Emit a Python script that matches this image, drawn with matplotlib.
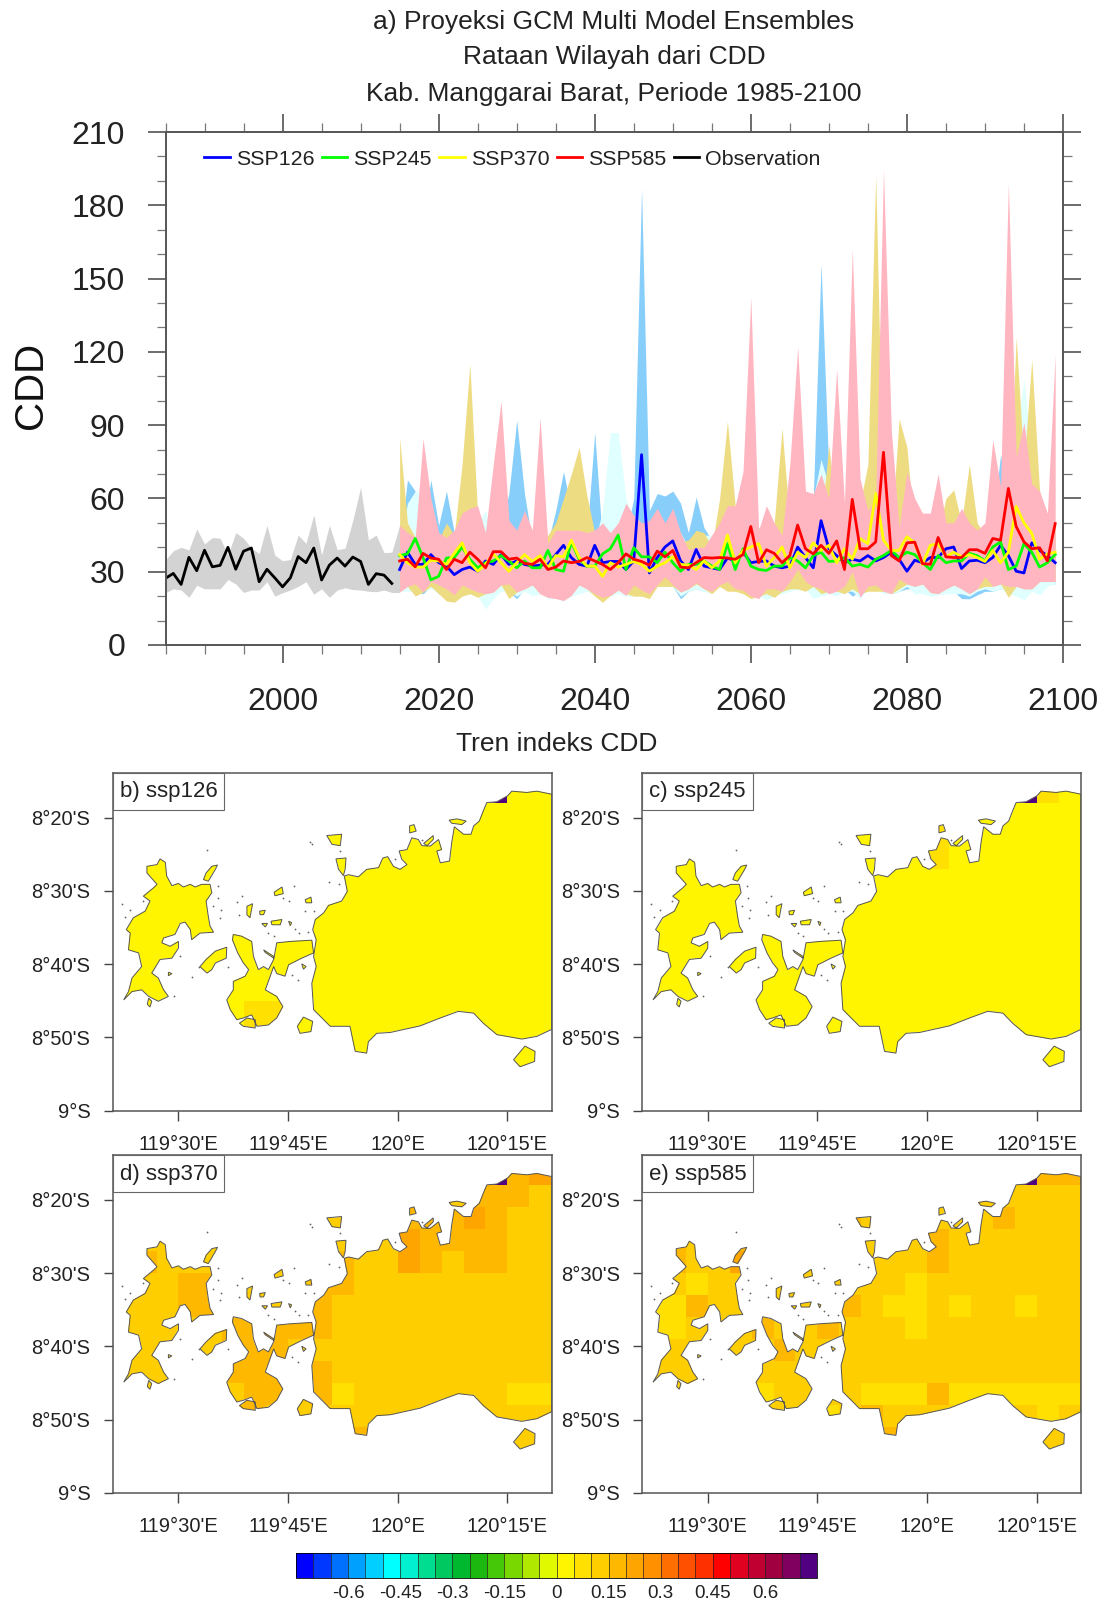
import numpy as np
import matplotlib
matplotlib.use("Agg")
import matplotlib.pyplot as plt
from matplotlib.colors import ListedColormap, BoundaryNorm
from matplotlib.cm import ScalarMappable
from matplotlib.patches import PathPatch, Rectangle
from matplotlib.path import Path

plt.rcParams['font.family'] = ['Liberation Sans', 'DejaVu Sans']

W, H = 1107, 1602

# observations 1985-2014, the grey band runs one year further
obs_years = np.arange(1985, 2015)
band_years = np.arange(1985, 2016)
obs = [27.3, 29.3, 24.8, 35.9, 30.4, 38.8, 32, 32.6, 40, 31,
       38.4, 39.7, 25.9, 31, 27.5, 23.8, 27.5, 36.2, 33.7, 39.7,
       26.6, 32.7, 35.6, 32.3, 36, 34.2, 24.8, 29.2, 28.6, 25.2]
obs_hi = [34.8, 38.6, 40, 38.9, 47.5, 41.4, 44, 43.7, 36.8, 46,
          43.7, 39.6, 37.5, 49, 36.8, 34.5, 35, 45, 41.6, 53.3,
          36.8, 49, 39, 39.6, 51, 64.5, 43, 45, 37.8, 38, 49]
obs_lo = [21.4, 23, 22.5, 19.5, 24.5, 23, 23, 23, 26.8, 25,
          21.5, 22.5, 22.5, 25.9, 20, 21.4, 22.5, 24, 25.9, 20.8,
          23, 19.5, 22.5, 23.4, 22.7, 22.5, 22, 21.8, 22.5, 21.5, 21.5]

# projections 2015-2099
years = np.arange(2015, 2100)
ssp585 = [34.4, 35.1, 32, 37.5, 35.6, 35.1, 30.9, 35.1, 33.7, 38,
          35.1, 31.6, 38.2, 38.2, 35.1, 35.6, 33.4, 33, 35.1, 30.9,
          31.9, 34.4, 33.7, 34.2, 35.8, 34.4, 33, 30.9, 33.7, 37.3,
          35.1, 34.2, 32.7, 38.4, 36.1, 38.7, 31.9, 31.6, 33.7, 35.8,
          35.6, 35.8, 35.6, 35.1, 37, 48.5, 33.7, 39, 37.5, 33.7,
          36.6, 49.1, 39.4, 37.3, 40.8, 37.5, 42.6, 30.9, 59.6, 39.4,
          39.4, 42.2, 78.9, 36.6, 34.4, 41.8, 42.1, 33.3, 33, 44,
          36.1, 35.8, 35.8, 39, 39, 37.5, 43.6, 42.9, 64.1, 48.5,
          42.2, 39.4, 39.8, 34.4, 49.7]
ssp126 = [30.9, 38, 33, 33, 37, 33.7, 32.3, 28.8, 30.9, 31.9,
          30.2, 34.4, 33, 37, 33, 34.4, 33, 32.3, 32.7, 33,
          37, 40.8, 35.8, 33, 32.3, 40.8, 33.7, 34.2, 34.2, 30.9,
          34.4, 77.9, 29.5, 35.8, 40.1, 42.6, 34.4, 30.9, 39.1, 32.3,
          31.6, 30.9, 35.6, 34.4, 38, 33.7, 34.2, 34.4, 32.3, 31.6,
          32.3, 40.1, 35.8, 31.6, 50.9, 39.4, 36.6, 33.7, 35.1, 34.4,
          36.6, 34.4, 35.8, 38, 35.1, 30.2, 34.7, 33.7, 35.8, 35.8,
          39.4, 40.1, 31.3, 34.4, 34.7, 33.7, 35.8, 40.8, 36.6, 30.2,
          29.5, 41.8, 38.7, 36.6, 33.7]
ssp245 = [36.6, 37.3, 43.6, 35.8, 26.7, 28.1, 35.6, 35.8, 40.1, 35.1,
          31.6, 33.7, 34.4, 36.6, 34.4, 31.6, 34.4, 31.6, 31.6, 38.7,
          30.9, 30.2, 42.2, 35.1, 32.3, 32.3, 37.3, 39.4, 45, 30.9,
          39.8, 36.1, 36.1, 33.7, 38, 33.7, 30.2, 33, 33, 34.4,
          32.3, 30.9, 41.5, 30.9, 39.4, 32.3, 30.9, 30.5, 32.3, 32.3,
          35.8, 34.4, 31.6, 36.6, 38, 34.2, 34.4, 35.8, 32.3, 33,
          31.9, 35.1, 36.6, 38.7, 35.8, 38, 37, 33.7, 30.9, 36.6,
          33.7, 34.4, 34.4, 37.5, 36.6, 34.4, 40.1, 42.2, 30.9, 32.3,
          41.5, 38, 31.9, 33.7, 37]
ssp370 = [37, 33.7, 31.9, 31.9, 34.7, 34.4, 33, 37.5, 41.8, 33.7,
          30.2, 33, 37.3, 33.7, 30.2, 33.7, 37, 34.2, 36.6, 31.6,
          36.6, 36.1, 42.9, 35.8, 32.3, 32.3, 28.1, 33.7, 31.9, 33,
          34.2, 33, 30.2, 32.3, 33.7, 36.1, 33, 32.7, 30.9, 34.4,
          31.6, 34.4, 45, 33.7, 38.7, 40.1, 41.5, 32.3, 35.8, 40.1,
          31.6, 38, 35.8, 41.8, 38.7, 40.8, 33.7, 39.4, 35.1, 43.6,
          41.5, 62, 42.9, 38.7, 38.7, 44.3, 41.8, 33, 40.8, 41.5,
          36.1, 38, 36.1, 37, 35.8, 34.2, 38.7, 33.7, 38, 56.7,
          50, 45.7, 35.1, 37.3, 38]

hi_126 = [40, 67.6, 63, 45, 67.6, 49, 63, 46, 40, 45,
          45, 44, 40, 48, 62, 92, 62, 42, 45, 42,
          55, 71, 55, 42, 45, 87, 42, 42, 42, 45,
          60, 187, 55, 62, 61, 63, 58, 46, 60.5, 48,
          43, 45, 48, 50, 55, 50, 48, 50, 46, 45,
          50, 50, 55, 60, 156, 70, 52, 45, 45, 46,
          45, 50, 45, 45, 40, 45, 45, 52, 48, 45,
          45, 45, 45, 50, 45, 45, 50, 78, 55, 50,
          50, 50, 55, 45, 45]
lo_126 = [22, 24, 22, 21, 24, 21, 19.5, 21, 21, 23,
          22, 21, 21.7, 24.6, 22, 18.9, 23, 24.6, 21, 21,
          21, 21, 21, 24.6, 23, 21, 19.5, 20.3, 22, 20.3,
          22, 21, 21, 24, 24, 24, 18.9, 22, 23, 22,
          22, 24, 24, 22, 22, 21, 20, 20, 20.5, 22,
          23, 23, 23, 24, 23, 21, 22, 23, 20, 22,
          23, 24, 22, 21, 22, 23, 23, 23, 21, 21,
          23, 22, 19, 18.9, 20.5, 22, 22, 23, 22, 22,
          22, 22, 25, 25, 25]
hi_245 = [40, 58, 63, 63, 45, 40, 40, 44, 42, 48,
          50, 55, 42, 42, 44, 46, 46, 48, 42, 45,
          46, 46, 55, 70, 48, 42, 55, 87, 87, 60,
          50, 48, 46, 45, 48, 45, 46, 40, 42, 45,
          45, 45, 50, 45, 50, 50, 48, 42, 44, 46,
          45, 50, 52, 60, 76, 65, 50, 45, 45, 45,
          50, 45, 50, 42, 40, 45, 42, 50, 50, 47,
          46, 46, 46, 45, 45, 50, 50, 60, 70, 85,
          109, 78, 50, 50, 45]
lo_245 = [22, 22, 22, 22, 23, 22, 21, 21, 21, 21,
          20, 14.7, 19, 22, 22, 20, 22, 20, 21, 19,
          19, 18, 20, 21, 22, 20.5, 19.5, 20, 21, 20,
          20, 20, 21, 24, 24, 24, 20, 22, 23, 22,
          21, 24, 24, 22, 22, 21, 20, 18.5, 20, 21,
          22, 23, 23, 19, 20, 21, 20, 22, 22, 19,
          23, 23, 21, 21, 22, 24, 21, 21, 20, 20.5,
          21, 21, 21, 20, 22, 23, 22, 23, 21, 20,
          18.5, 22, 20.5, 24, 25]
hi_370 = [85, 50, 44, 42, 42, 43, 50, 45, 74, 115,
          53, 43, 65, 42, 42, 44, 43, 45, 42, 45,
          50, 60, 70, 81, 61, 46, 40, 42, 50, 42,
          44, 46, 42, 44, 45, 46, 42, 43, 47, 46,
          40, 60, 91.6, 57, 45, 45, 48, 45, 50, 88.8,
          50, 60, 45, 45, 50, 82, 50, 60, 45, 58,
          74, 192.5, 55, 46, 92.6, 81, 45, 46, 54, 46,
          60, 63.5, 50, 74, 50, 45, 50, 45, 50, 126,
          74, 117, 63, 50, 50]
lo_370 = [22, 24, 20, 21.7, 24, 21, 18, 17.5, 20, 21,
          19.5, 21, 21.7, 24.6, 19, 21.7, 23, 24.6, 21, 19.5,
          21, 21, 21, 24.6, 23, 20, 17.5, 20.3, 22.5, 21,
          20, 20, 19, 24, 24, 24, 21.7, 23, 25, 23,
          21, 24, 22, 22, 21, 19, 20, 21, 19.5, 22,
          23, 23, 22, 24, 21, 22, 22, 21, 23, 21,
          22, 22, 22, 21, 23, 25, 24, 25, 21.5, 21,
          23, 24.6, 23, 21, 23, 24, 24, 25, 19.5, 24,
          23, 23, 26, 26, 26]
hi_585 = [49, 46, 44, 84.5, 60, 46, 44, 47, 54, 56,
          57, 46, 74, 100, 51, 47, 55, 47, 93, 41.5,
          47, 47, 47, 47, 46, 47, 50, 46, 50, 58,
          53, 50, 51, 56, 50, 56, 46, 39, 40, 40,
          45, 50, 57, 57, 71, 142.4, 47, 57, 50, 45,
          74, 122, 63, 62, 70, 60, 113, 58, 162, 68,
          55, 60, 194.6, 88, 48, 71, 60, 54, 54, 70,
          50, 50, 56, 50, 47, 50, 84, 65, 189, 77,
          91, 66, 63, 54, 119]
lo_585 = [21.7, 24, 25, 21.7, 26, 24.6, 23, 20.5, 24.6, 23,
          21.7, 21, 21.7, 24.6, 25, 21.7, 23, 24.6, 21, 19.5,
          19, 18.2, 20.3, 24.6, 23, 21, 19.5, 20.3, 22.5, 20.3,
          24.6, 22.5, 21, 24.6, 28, 24.6, 21.7, 23, 25.5, 23,
          22, 24.6, 26, 23, 22.5, 20, 19, 23, 23, 22,
          26, 31, 26, 24, 23, 21, 22, 24, 30, 19.5,
          24, 24.6, 22, 21, 27, 25, 24, 25, 21.5, 21,
          23, 24.6, 23, 21, 23, 28, 24, 25, 24, 24,
          23, 23, 26, 26, 26]

# trend classes on the 0.05 degree grid, top row first (lat -8.2 down to -9)
trend_class = {'a': 0.02, 'b': 0.07, 'c': 0.12, 'd': 0.17, 'e': 0.22, 'p': 0.72}
cells_126 = ['aaaaaaaaaaaaaaaaaaaa', 'aaaaaaaaaaaaaaaaapaa'] + ['aaaaaaaaaaaaaaaaaaaa'] * 9 + \
            ['aaaaaabbaaaaaaaaaaaa', 'aaaaaabbaaaaaaaaaaaa'] + ['aaaaaaaaaaaaaaaaaaaa'] * 3
cells_245 = ['aaaaaaaaaaaaaaaaaaaa', 'aaaaaaaaaaaaaaaaapba', 'aaaaaaaaaaaaaaaaaaaa',
             'aaaaaaaaaaaaabaaaaaa', 'aaaaaaaaaaaaabaaaaaa'] + ['aaaaaaaaaaaaaaaaaaaa'] * 11
cells_370 = ['cccccccccccccccccccc',
             'cccccccccccccccccpde',
             'ccccccccccccccccdddc',
             'cccccccccccccdddedcc',
             'cccccccccccccedddd' + 'cc',
             'cdcccccccddccedcddcc',
             'cccddccccddccccccccc',
             'cccddccccdcccccccccc',
             'cccccdddddcccccccccc',
             'cccccdddcccccccccccc',
             'cccccdddcdcccccccccc',
             'ccccccddcdbcccccccbb',
             'cccccddccccccccccccc',
             'ccccccccccddcccccccc',
             'cccccccccccccccccccc',
             'cccccccccccccccccccc']
cells_585 = ['cccccccccccccccccccc',
             'cccccccccccccccccpdd',
             'cccccccccccccccccccc',
             'cccccccccdccccccdccc',
             'cdccdccccccccdcccccc',
             'cdccecccccccc' + 'd' + 'cccccc',
             'ccbcccccccccbccccccc',
             'bbdccccccdcbbcbccbcc',
             'bbcccdccdcccbccccccc',
             'ccccccdccccccccccccc',
             'cccccccccccccccccccc',
             'cccccbccccbbbdbbbbbb',
             'ccccccccbcdcccccccbc',
             'ccccccccccddcccccccc',
             'cccccccccccccccccccc',
             'cccccccccccccccccccc']

# coastline, lon/lat degrees
flores_lon = [120.351, 120.317, 120.294, 120.26, 120.25, 120.226, 120.203, 120.195, 120.186, 120.173, 120.167,
              120.15, 120.129, 120.123, 120.118, 120.097, 120.089, 120.1, 120.093, 120.074, 120.055, 120.047,
              120.032, 120.021, 120.003, 120.009, 120.021, 120.005, 119.99, 119.977, 119.966, 119.956, 119.929,
              119.91, 119.888, 119.878, 119.885, 119.872, 119.842, 119.831, 119.812, 119.806, 119.814, 119.808,
              119.814, 119.804, 119.808, 119.827, 119.846, 119.891, 119.899, 119.903, 119.929, 119.933, 119.952,
              119.983, 120.051, 120.097, 120.138, 120.173, 120.195, 120.226, 120.283, 120.317, 120.351]
flores_lat = [-8.28, -8.273, -8.276, -8.273, -8.284, -8.297, -8.299, -8.318, -8.341, -8.352, -8.371,
              -8.371, -8.354, -8.39, -8.432, -8.436, -8.409, -8.406, -8.383, -8.398, -8.397, -8.383,
              -8.379, -8.406, -8.409, -8.428, -8.44, -8.451, -8.444, -8.422, -8.425, -8.447, -8.451,
              -8.468, -8.463, -8.466, -8.501, -8.523, -8.533, -8.55, -8.565, -8.588, -8.611, -8.649,
              -8.672, -8.71, -8.77, -8.789, -8.808, -8.808, -8.846, -8.865, -8.869, -8.843, -8.824,
              -8.822, -8.807, -8.789, -8.774, -8.778, -8.801, -8.827, -8.837, -8.831, -8.815]
komodo_lon = [119.458, 119.47, 119.473, 119.485, 119.5, 119.511, 119.527, 119.538, 119.553, 119.572, 119.576,
              119.563, 119.568, 119.572, 119.58, 119.549, 119.53, 119.527, 119.515, 119.504, 119.492, 119.466,
              119.462, 119.481, 119.5, 119.5, 119.485, 119.458, 119.439, 119.454, 119.466, 119.477, 119.454,
              119.432, 119.416, 119.394, 119.375, 119.386, 119.394, 119.416, 119.409, 119.386, 119.39, 119.381,
              119.397, 119.424, 119.435, 119.42, 119.443, 119.451, 119.428, 119.428, 119.451]
komodo_lat = [-8.427, -8.435, -8.466, -8.488, -8.483, -8.491, -8.485, -8.491, -8.485, -8.485, -8.504,
              -8.523, -8.558, -8.58, -8.594, -8.596, -8.611, -8.588, -8.571, -8.574, -8.599, -8.607,
              -8.618, -8.626, -8.615, -8.63, -8.653, -8.656, -8.687, -8.698, -8.725, -8.74, -8.751,
              -8.74, -8.725, -8.729, -8.748, -8.729, -8.698, -8.672, -8.641, -8.634, -8.596, -8.588,
              -8.561, -8.546, -8.523, -8.512, -8.493, -8.485, -8.459, -8.444, -8.44]
rinca_lon = [119.625, 119.644, 119.667, 119.671, 119.682, 119.694, 119.705, 119.717, 119.724, 119.755, 119.804,
             119.808, 119.781, 119.751, 119.743, 119.724, 119.717, 119.698, 119.724, 119.738, 119.724, 119.705,
             119.679, 119.667, 119.648, 119.633, 119.618, 119.61, 119.625, 119.625, 119.652, 119.66, 119.648,
             119.635, 119.623]
rinca_lat = [-8.599, -8.603, -8.615, -8.649, -8.679, -8.672, -8.679, -8.656, -8.618, -8.615, -8.612,
             -8.641, -8.653, -8.668, -8.694, -8.688, -8.672, -8.725, -8.74, -8.763, -8.789, -8.805,
             -8.808, -8.782, -8.789, -8.793, -8.77, -8.748, -8.725, -8.706, -8.694, -8.679, -8.664,
             -8.641, -8.611]
small_islands = [
    ([119.639, 119.656, 119.675, 119.675, 119.648], [-8.801, -8.789, -8.793, -8.812, -8.808]),
    ([119.61, 119.609, 119.584, 119.576, 119.565, 119.549, 119.563, 119.584], [-8.628, -8.653, -8.664, -8.679, -8.687, -8.672, -8.656, -8.637]),
    ([119.771, 119.785, 119.806, 119.802, 119.777], [-8.808, -8.787, -8.797, -8.82, -8.824]),
    ([120.264, 120.29, 120.313, 120.312, 120.279], [-8.884, -8.853, -8.865, -8.888, -8.9]),
    ([119.838, 119.872, 119.869, 119.85], [-8.374, -8.371, -8.397, -8.394]),
    ([119.859, 119.882, 119.88, 119.876, 119.865], [-8.427, -8.425, -8.451, -8.465, -8.451]),
    ([120.117, 120.135, 120.156, 120.146, 120.123], [-8.339, -8.336, -8.341, -8.349, -8.346]),
    ([120.027, 120.037, 120.042, 120.027], [-8.352, -8.349, -8.364, -8.368]),
    ([119.563, 119.576, 119.589, 119.584, 119.568, 119.557], [-8.459, -8.444, -8.441, -8.451, -8.478, -8.474]),
    ([119.718, 119.736, 119.739, 119.72], [-8.503, -8.491, -8.506, -8.511]),
    ([119.711, 119.736, 119.732, 119.713], [-8.569, -8.565, -8.577, -8.577]),
    ([119.685, 119.698, 119.694, 119.686], [-8.546, -8.544, -8.554, -8.554]),
    ([119.656, 119.669, 119.663, 119.656], [-8.535, -8.529, -8.561, -8.554]),
    ([119.69, 119.703, 119.698], [-8.574, -8.574, -8.582]),
    ([119.751, 119.758, 119.755], [-8.569, -8.572, -8.579]),
    ([119.477, 119.485, 119.477], [-8.685, -8.688, -8.693]),
    ([119.432, 119.439, 119.435, 119.429], [-8.744, -8.751, -8.764, -8.758]),
    ([119.694, 119.717, 119.717, 119.698], [-8.634, -8.649, -8.653, -8.64]),
    ([119.781, 119.791, 119.785], [-8.666, -8.672, -8.678]),
    ([119.789, 119.802, 119.804, 119.791], [-8.52, -8.514, -8.527, -8.527]),
    ([120.059, 120.081, 120.081, 120.067], [-8.392, -8.374, -8.383, -8.397]),
]
speck_lon = [119.565, 119.371, 119.419, 119.378, 119.39, 119.589, 119.591, 119.597, 119.595, 119.578, 119.637,
             119.644, 119.633, 119.764, 119.739, 119.751, 119.808, 119.789, 119.766, 119.774, 119.705, 119.717,
             119.796, 119.504, 119.489, 119.53, 119.546, 119.614, 119.758, 119.772, 119.804, 119.8, 119.869,
             119.844, 119.865, 119.994, 120.055]
speck_lat = [-8.407, -8.529, -8.523, -8.559, -8.544, -8.489, -8.516, -8.544, -8.561, -8.535, -8.554,
             -8.511, -8.526, -8.489, -8.516, -8.523, -8.546, -8.546, -8.587, -8.596, -8.596, -8.603,
             -8.594, -8.649, -8.74, -8.696, -8.672, -8.673, -8.691, -8.702, -8.394, -8.389, -8.409,
             -8.48, -8.485, -8.428, -8.383]

levels = np.arange(-0.75, 0.7501, 0.05)
level_colors = ['#0000FF', '#0038FF', '#0070FF', '#00A0FF', '#00CFFF', '#00FFFF', '#00F0D0', '#00DC90',
                '#00C860', '#00B830', '#1CB810', '#44C808', '#78D800', '#B0E800', '#E0F800', '#FFF500',
                '#FFE000', '#FFCE00', '#FFB800', '#FFA500', '#FF9000', '#FF6E00', '#FF5000', '#FF3000',
                '#FF0000', '#E00020', '#C00030', '#A00040', '#800060', '#500080']
cbar_ticks = [-0.6, -0.45, -0.3, -0.15, 0, 0.15, 0.3, 0.45, 0.6]
cbar_labels = ['-0.6', '-0.45', '-0.3', '-0.15', '0', '0.15', '0.3', '0.45', '0.6']


def px_axes(fig, left, top, right, bottom):
    return fig.add_axes([left / W, 1 - bottom / H, (right - left) / W, (bottom - top) / H])


def coast_path():
    polys = [(flores_lon, flores_lat), (komodo_lon, komodo_lat), (rinca_lon, rinca_lat)] + small_islands
    paths = []
    for lon, lat in polys:
        verts = list(zip(lon, lat)) + [(lon[0], lat[0])]
        paths.append(Path(verts, closed=True))
    return Path.make_compound_path(*paths)


def trend_map(ax, rows, label, cmap, norm):
    lon_edges = np.linspace(119.35, 120.35, 21)
    lat_edges = np.linspace(-9, -8.2, 17)
    z = np.array([[trend_class[c] for c in row] for row in rows[::-1]])
    mesh = ax.pcolormesh(lon_edges, lat_edges, z, cmap=cmap, norm=norm, linewidth=0, antialiased=False)
    land = PathPatch(coast_path(), facecolor='none', edgecolor='#555555', linewidth=0.7, zorder=3)
    ax.add_patch(land)
    mesh.set_clip_path(land)
    ax.plot(speck_lon, speck_lat, ls='none', marker='o', ms=1.3, mfc='#666666', mec='none', zorder=3)
    ax.set_xlim(119.35, 120.351)
    ax.set_ylim(-9, -8.2317)
    ax.set_xticks([119.5, 119.75, 120, 120.25])
    ax.set_xticklabels(["119°30'E", "119°45'E", "120°E", "120°15'E"])
    ax.set_yticks([-9, -8 - 50 / 60, -8 - 40 / 60, -8 - 30 / 60, -8 - 20 / 60])
    ax.set_yticklabels(["9°S", "8°50'S", "8°40'S", "8°30'S", "8°20'S"])
    ax.tick_params(axis='x', length=7, width=1, color='#444444', labelsize=14.5, pad=10.5, labelcolor='#222222')
    ax.tick_params(axis='y', length=6.5, width=1, color='#444444', labelsize=14.5, pad=9.5, labelcolor='#222222')
    for s in ax.spines.values():
        s.set_linewidth(1.1)
        s.set_color('#555555')
    ax.add_patch(Rectangle((0, 1 - 37 / 337.7), 111 / 439, 37 / 337.7, transform=ax.transAxes, facecolor='white',
                           edgecolor='#666666', linewidth=0.8, zorder=4))
    ax.text(7 / 439, 1 - 19 / 337.7, label, transform=ax.transAxes, fontsize=16, va='center', ha='left',
            color='#222222', zorder=5)


fig = plt.figure(figsize=(W / 100, H / 100), dpi=100)

ax = px_axes(fig, 165.5, 132, 1063, 645)
ax.fill_between(band_years, obs_lo, obs_hi, color='#D3D3D3', linewidth=0)
ax.fill_between(years, lo_126, hi_126, color='#87CEFA', linewidth=0)
ax.fill_between(years, lo_245, hi_245, color='#E0FFFF', linewidth=0)
ax.fill_between(years, lo_370, hi_370, color='#EEDC82', linewidth=0)
ax.fill_between(years, lo_585, hi_585, color='#FFB6C1', linewidth=0)
ax.plot(years, ssp126, color='#0000FF', lw=2, label='SSP126')
ax.plot(years, ssp245, color='#00FF00', lw=2, label='SSP245')
ax.plot(years, ssp370, color='#FFFF00', lw=2, label='SSP370')
ax.plot(years, ssp585, color='#FF0000', lw=2, label='SSP585')
ax.plot(obs_years, obs, color='black', lw=2, label='Observation')
ax.set_xlim(1985, 2100)
ax.set_ylim(0, 210)
ax.set_xticks(np.arange(2000, 2101, 20))
ax.set_xticks(np.arange(1985, 2101, 5), minor=True)
ax.set_yticks(np.arange(0, 211, 30))
ax.set_yticks(np.arange(0, 211, 10), minor=True)
ax.tick_params(which='major', direction='out', top=True, right=True, length=13, width=1.1, color='#444444',
               labelsize=23, labelcolor='#222222')
ax.tick_params(which='minor', direction='out', top=True, right=True, length=6.5, width=0.9, color='#777777')
ax.tick_params(axis='x', which='major', pad=17)
ax.tick_params(axis='y', which='major', pad=16)
for s in ax.spines.values():
    s.set_linewidth(1.4)
    s.set_color('#555555')
ax.legend(loc='upper left', bbox_to_anchor=(0.043, 0.965), ncol=5, frameon=False, fontsize=15.4, handlelength=1.2,
          handletextpad=0.28, columnspacing=0.34, borderpad=0, borderaxespad=0, labelcolor='#222222')

fig.text(614 / W, 1 - 22.5 / H, 'a) Proyeksi GCM Multi Model Ensembles', fontsize=19, ha='center', va='center', color='#222222')
fig.text(614 / W, 1 - 57 / H, 'Rataan Wilayah dari CDD', fontsize=19, ha='center', va='center', color='#222222')
fig.text(614 / W, 1 - 94 / H, 'Kab. Manggarai Barat, Periode 1985-2100', fontsize=19, ha='center', va='center', color='#222222')
fig.text(31 / W, 1 - 385 / H, 'CDD', fontsize=29, rotation=90, ha='center', va='center', color='#111111')
fig.text(557 / W, 1 - 744 / H, 'Tren indeks CDD', fontsize=19, ha='center', va='center', color='#222222')

cmap = ListedColormap(level_colors)
norm = BoundaryNorm(levels, cmap.N)

trend_map(px_axes(fig, 112.7, 773, 551.7, 1110.7), cells_126, 'b) ssp126', cmap, norm)
trend_map(px_axes(fig, 642, 773, 1081, 1110.7), cells_245, 'c) ssp245', cmap, norm)
trend_map(px_axes(fig, 112.7, 1155.3, 551.7, 1493), cells_370, 'd) ssp370', cmap, norm)
trend_map(px_axes(fig, 642, 1155.3, 1081, 1493), cells_585, 'e) ssp585', cmap, norm)

cax = px_axes(fig, 296, 1553, 817, 1578)
cb = fig.colorbar(ScalarMappable(norm=norm, cmap=cmap), cax=cax, orientation='horizontal', spacing='proportional',
                  ticks=cbar_ticks, drawedges=True)
cb.set_ticklabels(cbar_labels)
cb.ax.minorticks_off()
cb.ax.tick_params(length=0, labelsize=13.5, pad=5, labelcolor='#222222')
cb.outline.set_linewidth(0.6)
cb.dividers.set_linewidth(0.5)
cb.dividers.set_color('#222222')

fig.savefig('out.png', dpi=100)
